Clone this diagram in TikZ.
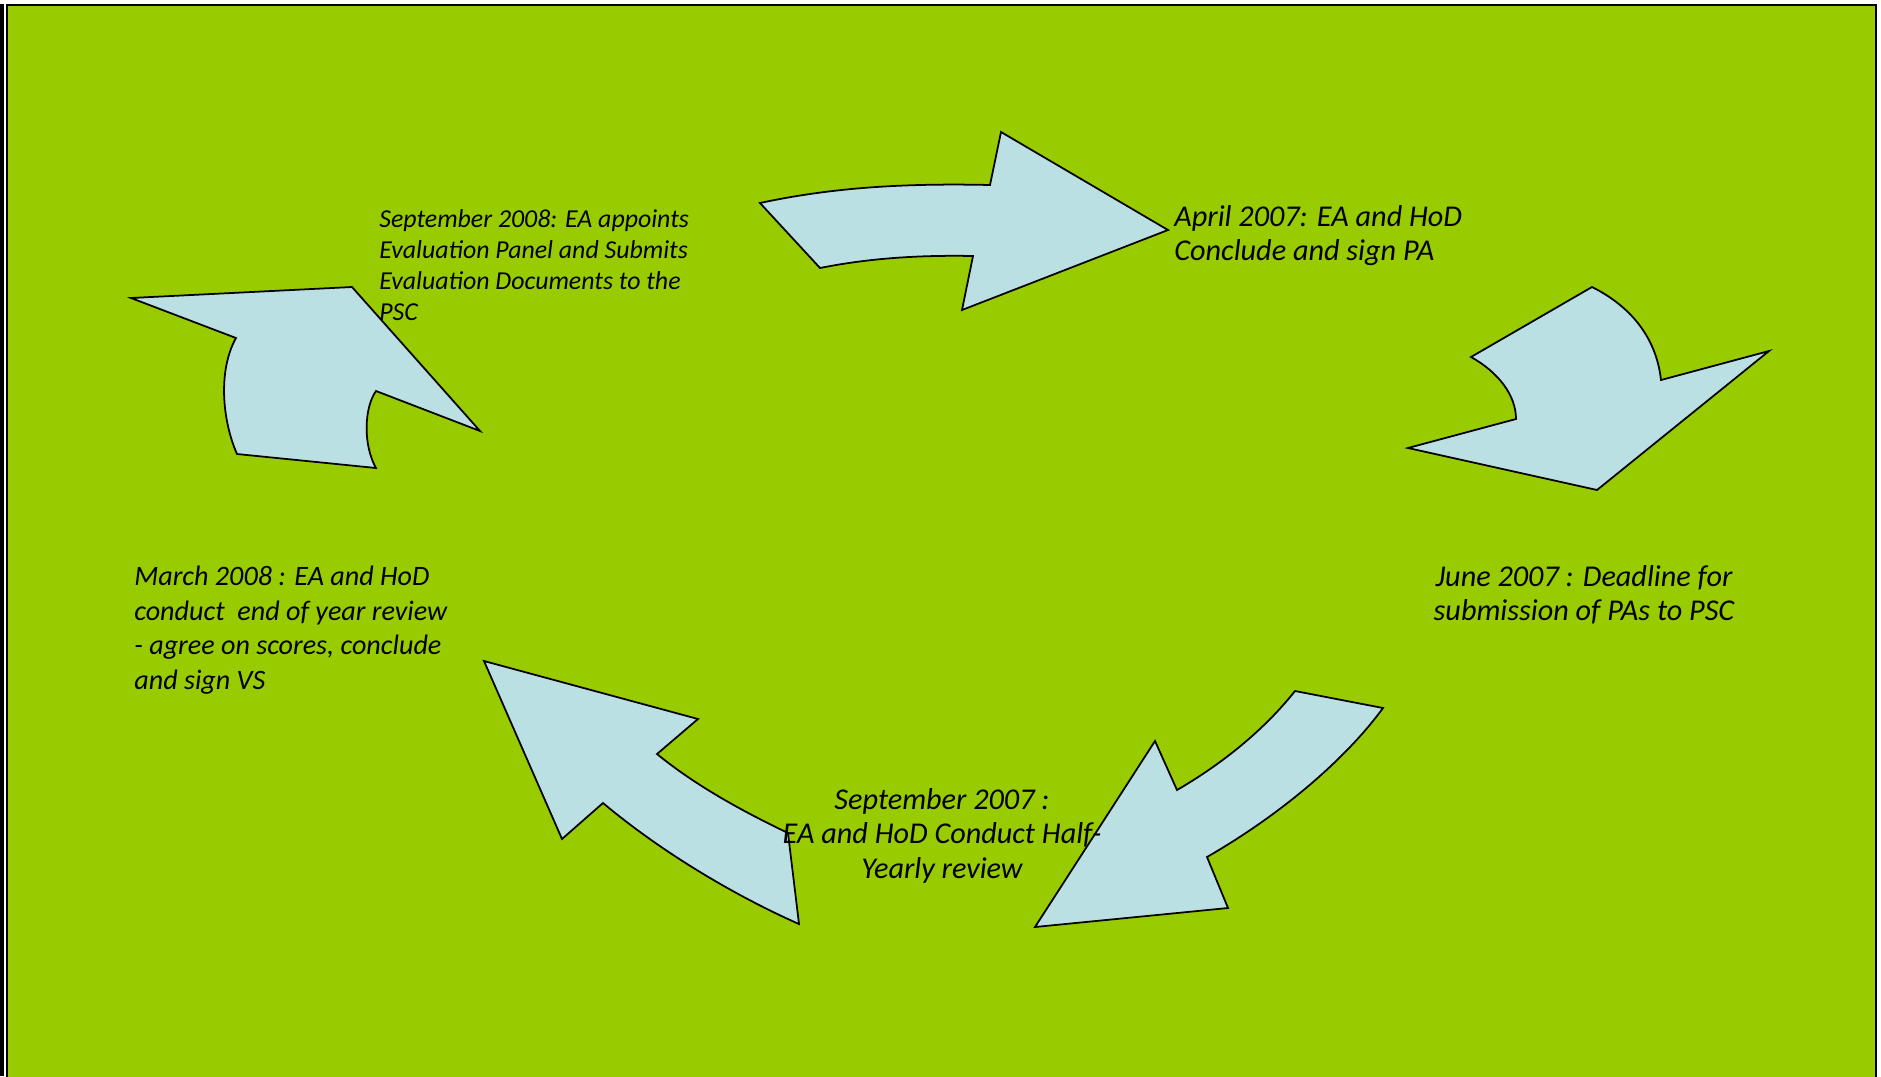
\documentclass[tikz,border=0pt]{standalone}
\usepackage{fontspec}
\setmainfont{Carlito}
\usepackage{xcolor}
\usepackage{tikz}
\usetikzlibrary{calc}

\definecolor{panelgreen}{RGB}{153,204,0}
\definecolor{arrowblue}{RGB}{187,224,227}

\tikzset{
	cyclearrow/.style={fill=arrowblue, draw=black, line width=1pt, line join=miter},
	stagetext/.style={inner sep=0pt, text=black, font=\itshape\fontsize{17.2}{19.6}\selectfont},
}

\begin{document}
\begin{tikzpicture}[x=0.2mm, y=-0.2mm]
	\useasboundingbox (0,0) rectangle (1881,1076);
	\fill [white] (0,0) rectangle (1881,1076);
	% green panel
	\fill [black] (0,4) rectangle (4,1076);
	\draw [line width=1.2pt, black, fill=panelgreen] (7,5) rectangle (1876,1100);
	% arrows of the cycle
	\draw [cyclearrow]
		(760,203) .. controls (830,188) and (900,183) .. (990,185)
		-- (1001,132) -- (1168,230) -- (962,310) -- (973,256)
		.. controls (920,255) and (870,258) .. (820,268) -- cycle;
	\draw [cyclearrow]
		(1592,287) -- (1471,357)
		.. controls (1498,372) and (1516,395) .. (1516,419)
		-- (1408,448) -- (1597,490) -- (1769,351) -- (1661,380)
		.. controls (1656,335) and (1628,305) .. (1592,287) -- cycle;
	\draw [cyclearrow]
		(1295,691) -- (1383,708)
		.. controls (1345,760) and (1280,815) .. (1207,857)
		-- (1228,908) -- (1035,927) -- (1155,741) -- (1177,790)
		.. controls (1215,768) and (1260,735) .. (1295,691) -- cycle;
	\draw [cyclearrow]
		(484,661) -- (698,719) -- (657,754)
		.. controls (695,785) and (740,810) .. (788,833)
		-- (799,924)
		.. controls (740,898) and (665,855) .. (603,803)
		-- (562,839) -- cycle;
	\draw [cyclearrow]
		(131,298) -- (352,287) -- (480,431) -- (376,391)
		.. controls (364,408) and (363,445) .. (376,468)
		-- (237,454)
		.. controls (222,420) and (218,370) .. (236,338) -- cycle;
	% stages
	\node [stagetext, anchor=north west, align=left, font=\itshape\fontsize{14.7}{17.6}\selectfont]
		(sep08) at (379,209)
		{September 2008: EA appoints\\Evaluation Panel and Submits\\Evaluation Documents to the\\PSC};
	\node [stagetext, anchor=north west, align=left] (apr07) at (1174,205)
		{April 2007: EA and HoD\\Conclude and sign PA};
	\node [stagetext, anchor=north, align=center] (jun07) at (1584,565)
		{June 2007 : Deadline for\\submission of PAs to PSC};
	\node [stagetext, anchor=north west, align=left, font=\itshape\fontsize{16}{19.6}\selectfont]
		(mar08) at (134,566)
		{March 2008 : EA and HoD\\conduct\ \ end of year review\\- agree on scores, conclude\\and sign VS};
	\node [stagetext, anchor=north, align=center] (sep07) at (942,788)
		{September 2007 :\\EA and HoD Conduct Half-\\Yearly review};
\end{tikzpicture}
\end{document}
